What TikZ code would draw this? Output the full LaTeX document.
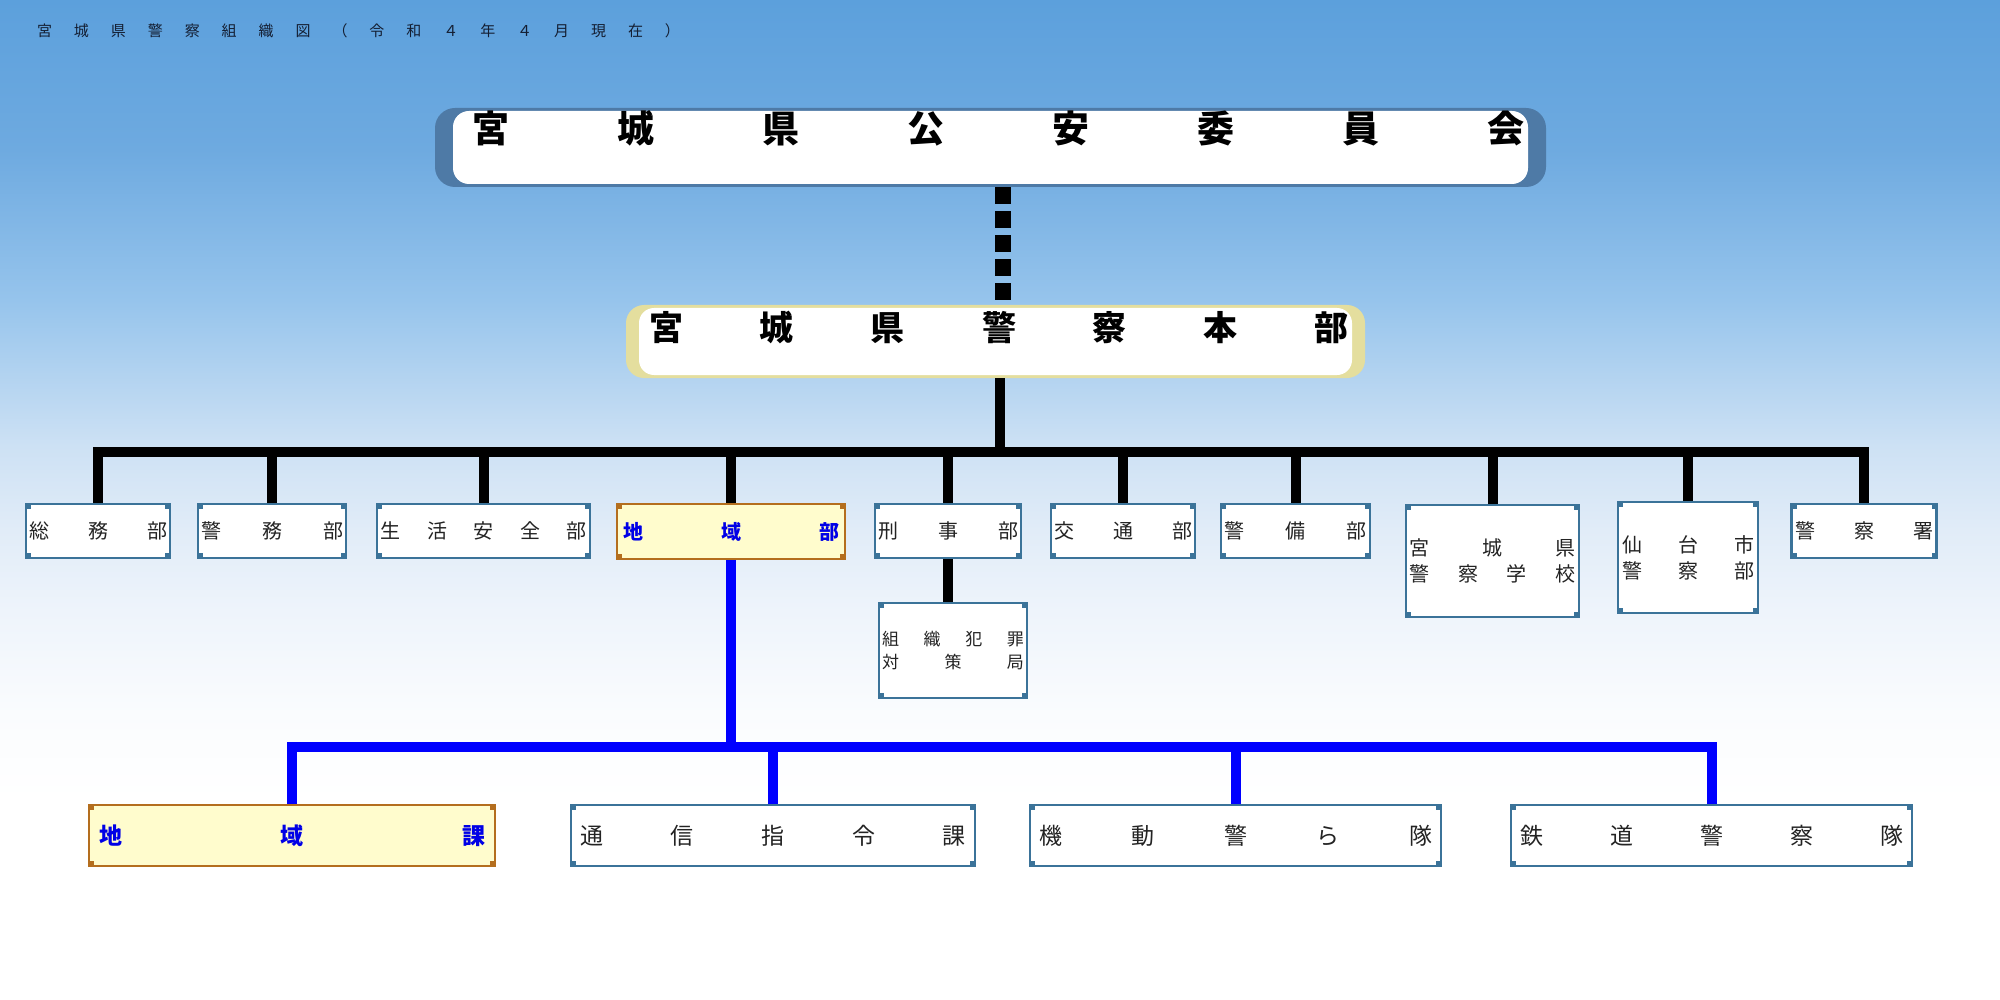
\documentclass[tikz,border=0pt]{standalone}
\usepackage{fontspec}
\newfontfamily\jp{Noto Sans CJK JP}
\definecolor{bg0}{RGB}{92,160,220}
\definecolor{bg1}{RGB}{110,170,224}
\definecolor{bg2}{RGB}{150,196,236}
\definecolor{bg3}{RGB}{205,225,244}
\definecolor{bg4}{RGB}{225,236,248}
\definecolor{bg5}{RGB}{238,244,251}
\definecolor{bg6}{RGB}{250,252,254}
\definecolor{boxB}{RGB}{59,115,153}
\definecolor{brownB}{RGB}{180,110,30}
\definecolor{yelF}{RGB}{255,252,205}
\definecolor{blueT}{RGB}{0,0,230}
\definecolor{txt}{RGB}{35,35,35}
\definecolor{titleC}{RGB}{20,30,50}
\definecolor{cmEdge}{RGB}{78,122,166}
\definecolor{hqEdge}{RGB}{228,222,158}
\pgfdeclareverticalshading{bgshade}{100bp}{color(0bp)=(white); color(35bp)=(white); color(39.3bp)=(bg6); color(44.4bp)=(bg5); color(48.5bp)=(bg4); color(52.7bp)=(bg3); color(60bp)=(bg2); color(67.5bp)=(bg1); color(75bp)=(bg0); color(100bp)=(bg0)}
\newcommand\distr[2]{\hbox to #1{#2}}
\begin{document}
\begin{tikzpicture}[x=1pt,y=-1pt,
  corners/.style={path picture={
    \fill[#1] (path picture bounding box.north west) rectangle ++(5pt,-5pt);
    \fill[#1] (path picture bounding box.north east) rectangle ++(-5pt,-5pt);
    \fill[#1] (path picture bounding box.south west) rectangle ++(5pt,5pt);
    \fill[#1] (path picture bounding box.south east) rectangle ++(-5pt,5pt);
  }},
  orgbox/.style={draw=boxB, line width=2.5pt, fill=white, inner sep=0pt, text=txt,
    font=\jp\fontsize{20pt}{26pt}\selectfont, corners=boxB, align=center},
  smallbox/.style={orgbox, font=\jp\fontsize{17pt}{23pt}\selectfont},
  bigbox/.style={orgbox, font=\jp\fontsize{23pt}{28pt}\selectfont},
  hibox/.style={orgbox, draw=brownB, fill=yelF, text=blueT,
    font=\jp\bfseries\fontsize{20pt}{26pt}\selectfont, corners=brownB},
  hibigbox/.style={hibox, font=\jp\bfseries\fontsize{23pt}{28pt}\selectfont},
  cmte/.style={fill=cmEdge, rounded corners=20pt, inner sep=0pt,
    path picture={\fill[white, rounded corners=16pt] ([shift={(18pt,-3pt)}]path picture bounding box.north west) rectangle ([shift={(-18pt,3pt)}]path picture bounding box.south east);}},
  hqbox/.style={fill=hqEdge, rounded corners=18pt, inner sep=0pt,
    path picture={\fill[white, rounded corners=15pt] ([shift={(13pt,-3pt)}]path picture bounding box.north west) rectangle ([shift={(-13pt,3pt)}]path picture bounding box.south east);}},
  headtxt/.style={inner sep=0pt, text=black, font=\jp\bfseries\fontsize{#1}{#1}\selectfont},
  blk/.style={line width=10pt, draw=black},
  blu/.style={line width=10pt, draw=blue}
]
\useasboundingbox (0,0) rectangle (2000,1000);
\fill[shading=bgshade] (0,0) rectangle (2000,1000);

% title
\node[inner sep=0pt, text=titleC, font=\jp\fontsize{15pt}{18pt}\selectfont] (title) at (358.5,31)
  {\distr{643pt}{宮\hfill 城\hfill 県\hfill 警\hfill 察\hfill 組\hfill 織\hfill 図\hfill （\hfill 令\hfill 和\hfill ４\hfill 年\hfill ４\hfill 月\hfill 現\hfill 在\hfill ）}};

% committee and HQ
\node[cmte, minimum width=1111pt, minimum height=79pt] (psc) at (990.5,147.5) {};
\node[headtxt=37pt] (psctxt) at (998.5,128)
  {\distr{1052pt}{宮\hfill 城\hfill 県\hfill 公\hfill 安\hfill 委\hfill 員\hfill 会}};
\node[hqbox, minimum width=739pt, minimum height=73pt] (hq) at (995.5,341.5) {};
\node[headtxt=34pt] (hqtxt) at (999,327)
  {\distr{700pt}{宮\hfill 城\hfill 県\hfill 警\hfill 察\hfill 本\hfill 部}};

% level 2
\node[orgbox, minimum width=144pt, minimum height=54pt] (somu) at (98,531) {\distr{138pt}{総\hfill 務\hfill 部}};
\node[orgbox, minimum width=148pt, minimum height=54pt] (keimu) at (272,531) {\distr{142pt}{警\hfill 務\hfill 部}};
\node[orgbox, minimum width=213pt, minimum height=54pt] (seikatsu) at (483.5,531) {\distr{206pt}{生\hfill 活\hfill 安\hfill 全\hfill 部}};
\node[hibox, minimum width=228pt, minimum height=55pt] (chiiki) at (731,531.5) {\distr{216pt}{地\hfill 域\hfill 部}};
\node[orgbox, minimum width=146pt, minimum height=54pt] (keiji) at (948,531) {\distr{140pt}{刑\hfill 事\hfill 部}};
\node[orgbox, minimum width=144pt, minimum height=54pt] (kotsu) at (1123,531) {\distr{138pt}{交\hfill 通\hfill 部}};
\node[orgbox, minimum width=149pt, minimum height=54pt] (keibi) at (1295.5,531) {\distr{142pt}{警\hfill 備\hfill 部}};
\node[orgbox, minimum width=173pt, minimum height=112pt] (gakko) at (1492.5,561) {\distr{166pt}{宮\hfill 城\hfill 県}\\\distr{166pt}{警\hfill 察\hfill 学\hfill 校}};
\node[orgbox, minimum width=140pt, minimum height=111pt] (sendai) at (1688,557.5) {\distr{132pt}{仙\hfill 台\hfill 市}\\\distr{132pt}{警\hfill 察\hfill 部}};
\node[orgbox, minimum width=145pt, minimum height=54pt] (keisatsusho) at (1864,531) {\distr{138pt}{警\hfill 察\hfill 署}};

% sub of keiji
\node[smallbox, minimum width=148pt, minimum height=95pt] (soshiki) at (953,650.5) {\distr{142pt}{組\hfill 織\hfill 犯\hfill 罪}\\\distr{142pt}{対\hfill 策\hfill 局}};

% level 3
\node[hibigbox, minimum width=406pt, minimum height=61pt] (chiikika) at (292,835.5) {\distr{386pt}{地\hfill 域\hfill 課}};
\node[bigbox, minimum width=404pt, minimum height=61pt] (tsushin) at (773,835.5) {\distr{386pt}{通\hfill 信\hfill 指\hfill 令\hfill 課}};
\node[bigbox, minimum width=411pt, minimum height=61pt] (kido) at (1235.5,835.5) {\distr{393pt}{機\hfill 動\hfill 警\hfill ら\hfill 隊}};
\node[bigbox, minimum width=401pt, minimum height=61pt] (tetsudo) at (1711.5,835.5) {\distr{383pt}{鉄\hfill 道\hfill 警\hfill 察\hfill 隊}};

% connectors
\coordinate (dashx) at (1003,0);
\coordinate (hqx) at (1000,0);
\coordinate (bus) at (0,452);
\coordinate (bbus) at (0,747);
\draw[line width=16pt, dash pattern=on 17pt off 7pt] (psc.south -| dashx) -- (hq.north -| dashx);
\draw[blk] (hq.south -| hqx) -- (bus -| hqx);
\draw[blk, line join=miter] (somu.north) -- (somu.north |- bus) -- (keisatsusho.north |- bus) -- (keisatsusho.north);
\foreach \n in {keimu,seikatsu,chiiki,keiji,kotsu,keibi,gakko,sendai}
  \draw[blk] (\n.north) -- (\n.north |- bus);
\draw[blk] (keiji.south) -- (keiji.south |- soshiki.north);
\draw[blu] (chiiki.south) -- (chiiki.south |- bbus);
\draw[blu, line join=miter] (chiikika.north) -- (chiikika.north |- bbus) -- (tetsudo.north |- bbus) -- (tetsudo.north);
\draw[blu] (tsushin.north) -- (tsushin.north |- bbus);
\draw[blu] (kido.north) -- (kido.north |- bbus);
\end{tikzpicture}
\end{document}
